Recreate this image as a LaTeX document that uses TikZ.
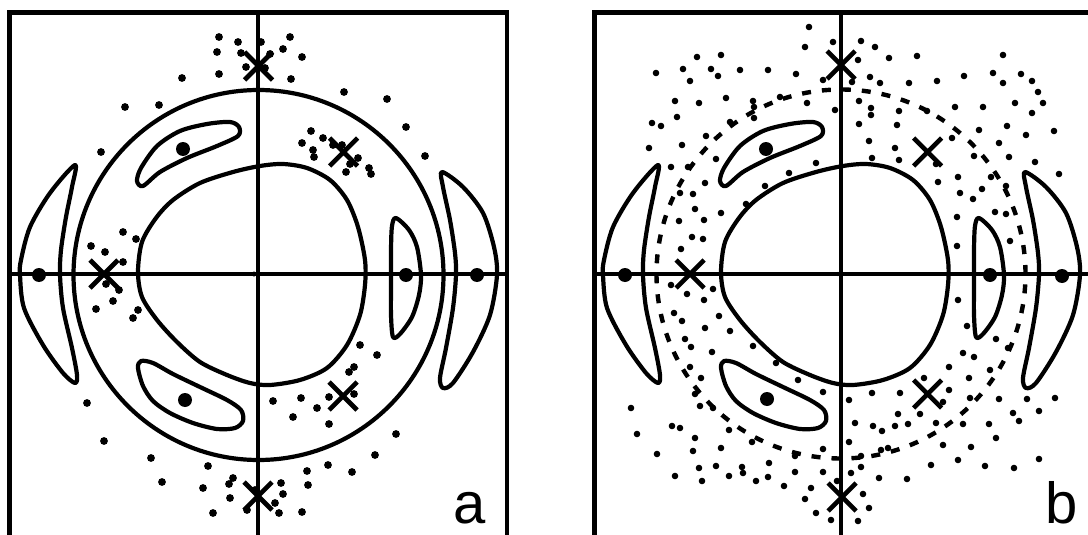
\documentclass[tikz,border=0pt]{standalone}
\usepackage{fontspec}
\setmainfont{Liberation Sans}
\tikzset{
  curve/.style={line width=4.2pt, line join=round},
  framebox/.style={line width=4.6pt},
  axisline/.style={line width=3.8pt},
  xstroke/.style={line width=4.6pt},
  ringdash/.style={line width=4.4pt, dash pattern=on 9pt off 11pt},
  bigdot/.style={fill=black},
  panellabel/.style={font=\fontsize{58}{58}\selectfont, anchor=base, inner sep=0pt}
}
\newcommand\drawislands{%
  \draw[curve] plot[smooth cycle] coordinates {(138,272) (142,242) (156,218) (173,200) (200,183) (233,172) (260,166) (283,164) (307,168) (330,180) (347,200) (358,227) (365,260) (365,285) (360,315) (347,345) (327,368) (300,380) (270,385) (250,383) (227,375) (200,362) (177,342) (157,320) (142,297)};
  \draw[curve] plot[smooth cycle] coordinates {(137,181) (141,168) (157,146) (180,131) (207,124) (230,122) (239,127) (238,136) (217,146) (187,158) (160,172) (143,186)};
  \draw[curve] plot[smooth cycle] coordinates {(138,368) (141,361) (153,363) (173,374) (200,387) (227,400) (241,410) (243,421) (235,428) (217,429) (193,423) (170,413) (153,401) (143,386)};
  \draw[curve] plot[smooth cycle] coordinates {(75,165) (50,193) (30,227) (21,260) (20,275) (24,308) (43,345) (63,373) (75,383) (77,375) (72,348) (63,308) (60,275) (61,250) (66,217) (72,187)};
  \draw[curve] plot[smooth cycle] coordinates {(442,172) (463,187) (483,213) (494,247) (497,275) (490,315) (473,352) (453,383) (443,388) (440,378) (446,348) (453,308) (456,275) (455,253) (450,220) (443,187)};
  \draw[curve] plot[smooth cycle] coordinates {(396,218) (409,230) (417,247) (421,275) (419,295) (412,317) (400,334) (393,337) (391,315) (391,285) (391,250) (392,226)};
}
\newcommand\drawcross[2]{%
  \draw[xstroke] (#1-14,#2-14) -- (#1+14,#2+14) (#1-14,#2+14) -- (#1+14,#2-14);
}
\begin{document}
\begin{tikzpicture}[x=1pt,y=-1pt]
\useasboundingbox (0,0) rectangle (1088,535);
\fill[white] (0,0) rectangle (1088,535);
\clip (0,0) rectangle (1088,535);

% ---------------- panel a ----------------
\draw[framebox] (9.5,12.5) rectangle (507,560);
\draw[axisline] (9.5,274) -- (507,274);
\draw[axisline] (258.3,12.5) -- (258.3,560);
\draw[curve] (258.5,275) circle[radius=185pt];
\drawislands
\foreach \x/\y in {39/275,183/149,185/400,406/275,477/275}
  \fill[bigdot] (\x,\y) circle[radius=7pt];
\fill (254,274) circle[radius=2.5pt];
\foreach \x/\y in {219/37,238/42,261/42,290/37,217/52,241/53,283/49,270/54,302/57,246/67,265/68,219/74,291/79,182/78,
  159/105,125/107,101/152,344/92,387/99,406/127,425/156,
  311/131,302/143,323/138,333/145,342/145,313/150,314/157,358/158,350/164,346/172,369/168,371/174,
  123/232,136/239,91/246,105/252,123/262,106/284,119/290,113/301,96/309,138/310,133/318,
  87/403,104/441,151/458,162/482,208/466,233/478,229/484,203/488,230/498,213/513,247/510,255/490,
  360/345,377/355,354/367,349/372,273/401,301/398,329/397,354/394,317/408,293/417,329/424,396/434,375/455,
  328/465,307/471,352/472,308/485,281/483,283/494,275/503,279/513,302/512}
  \fill (\x,\y) circle[radius=3.9pt];
\drawcross{258.5}{66}
\drawcross{343.5}{152}
\drawcross{104}{274}
\drawcross{343}{396}
\drawcross{258}{496}
\node[panellabel] (labela) at (470,523) {a};

% ---------------- panel b ----------------
\draw[framebox] (594.7,12.7) rectangle (1100,560);
\draw[axisline] (594.7,274) -- (1100,274);
\draw[axisline] (841.3,12.7) -- (841.3,560);
\draw[ringdash] (841,274) circle[radius=184.5pt];
\begin{scope}[shift={(583,0)}]
  \drawislands
\end{scope}
\foreach \x/\y in {625/275,766/149,767/399,990/275,1062/276}
  \fill[bigdot] (\x,\y) circle[radius=7pt];
\fill (838,274) circle[radius=2.2pt];
\foreach \x/\y in {809/27,833/42,805/47,721/55,697/57,656/73,683/69,711/69,718/76,740/70,768/70,796/74,823/80,690/81,
  675/101,699/103,726/98,753/101,754/107,754/118,780/97,807/103,835/110,652/123,661/126,677/117,730/122,
  706/136,649/148,682/145,716/159,671/167,688/167,705/183,680/193,693/194,695/209,721/213,704/220,679/221,
  692/237,703/239,681/249,746/204,765/186,789/173,816/163,
  861/41,875/47,858/60,889/58,917/56,1003/55,852/82,870/77,880/83,909/83,937/81,964/76,993/73,1003/83,1021/74,
  1032/81,1038/92,1043/103,859/101,871/108,871/115,899/111,927/111,955/107,983/107,1015/103,1032/113,859/124,
  897/125,952/138,979/130,1007/126,1026/135,1054/131,869/141,895/148,999/143,872/158,899/160,936/164,974/156,
  1009/157,1035/162,1059/174,938/182,958/177,991/177,960/193,982/189,973/199,1006/186,995/212,1006/214,
  957/217,1010/241,957/246,
  671/285,687/294,713/289,704/300,674/313,682/321,719/316,705/328,730/331,685/339,691/347,712/352,753/346,
  690/367,701/378,776/363,798/380,823/392,631/408,695/394,700/406,713/408,637/434,672/426,680/428,695/438,
  729/430,752/442,657/454,693/451,721/448,795/456,823/449,675/476,699/468,716/466,702/481,729/476,742/467,
  743/473,756/481,769/463,768/477,784/486,795/472,823/472,811/488,805/499,816/513,831/520,837/481,
  958/300,967/326,996/339,1008/348,963/353,974/357,949/367,990/370,969/378,924/378,949/390,872/393,900/393,
  849/400,970/398,999/399,1027/399,1055/398,943/402,920/414,898/414,936/423,963/424,1013/413,1019/421,
  1039/411,989/424,855/423,873/426,882/431,895/426,908/424,943/445,971/447,996/438,849/442,888/448,881/450,
  861/456,861/467,851/473,879/478,907/479,931/465,958/460,985/466,1014/468,1039/459,863/494,869/508,858/521}
  \fill (\x,\y) circle[radius=3.3pt];
\drawcross{841}{65}
\drawcross{927.5}{152}
\drawcross{690}{274}
\drawcross{927.5}{394}
\drawcross{842}{497}
\node[panellabel] (labelb) at (1061.5,523) {b};
\end{tikzpicture}
\end{document}
